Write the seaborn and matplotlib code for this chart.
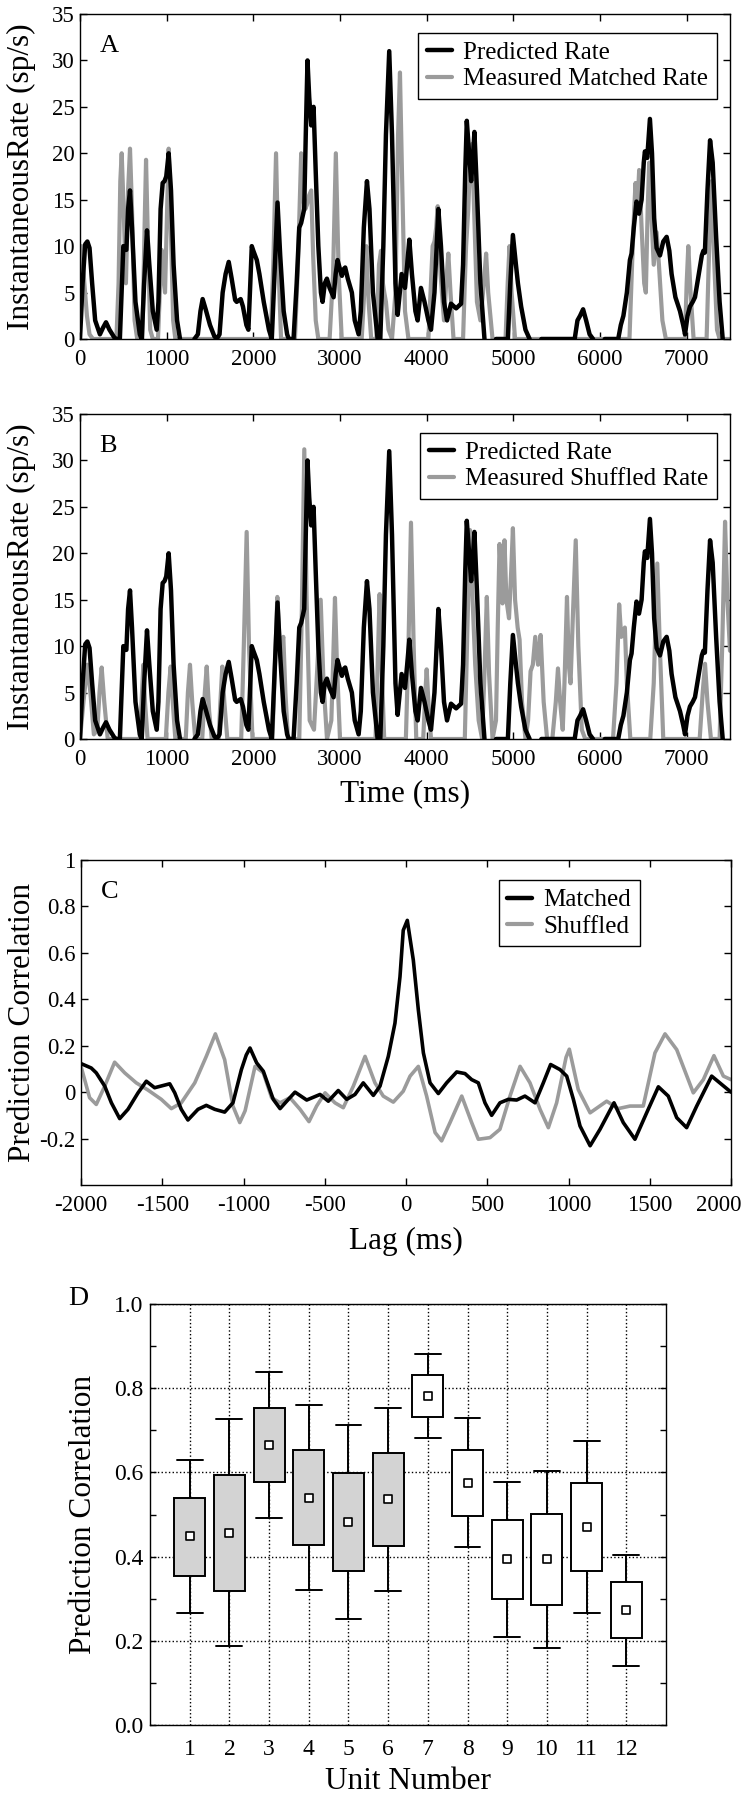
import numpy as np
import pandas as pd
import matplotlib
matplotlib.use("Agg")
import matplotlib.pyplot as plt
import matplotlib.transforms as mtransforms
import seaborn as sns
from matplotlib.lines import Line2D
from matplotlib.ticker import MultipleLocator, FuncFormatter

nan = np.nan

# === Panel A/B: predicted rate (ms, sp/s); NaN marks a break in the trace ===
pred_points = [
    (0, 0), (30, 6), (60, 10.2), (85, 10.5), (110, 9.8), (140, 6), (175, 2), (230, 0.5),
    (265, 1.2), (300, 1.8), (340, 1), (400, 0.1), (423, 0), (460, 0), (480, 5), (500, 10),
    (520, 9.6), (535, 9.6), (555, 14), (577, 16), (600, 12), (640, 4), (690, 0.5), (712, 0),
    (740, 6), (773, 11.7), (800, 8), (840, 3), (885, 1), (905, 4), (930, 14), (954, 16.8),
    (975, 17), (995, 17.5), (1023, 20), (1050, 16), (1080, 8), (1120, 2), (1154, 0),
    (1240, nan),
    (1320, 0), (1360, 0.5), (1390, 3), (1415, 4.3), (1450, 3.2), (1500, 1.5), (1550, 0.3),
    (1577, 0), (1610, 0.5), (1646, 5), (1680, 7), (1716, 8.3), (1750, 6.5), (1790, 4.2),
    (1808, 4), (1854, 4.3), (1880, 3.5), (1920, 1.5), (1943, 1), (1965, 6), (1982, 10),
    (2000, 9.5), (2040, 8.5), (2070, 7), (2120, 4), (2180, 1), (2213, 0), (2240, 6),
    (2279, 14.7), (2310, 9), (2350, 3), (2390, 0.5), (2410, 0), (2464, 0), (2500, 6),
    (2530, 12), (2552, 12.5), (2587, 14), (2605, 22), (2625, 30), (2645, 26), (2668, 23),
    (2695, 25), (2720, 18), (2750, 10), (2780, 5), (2799, 4), (2825, 6), (2849, 6.5),
    (2880, 5.5), (2926, 4.5), (2950, 7), (2972, 8.5), (3000, 7.5), (3022, 6.8), (3040, 7.5),
    (3060, 7.7), (3090, 6.5), (3137, 5), (3170, 2), (3215, 0.5), (3240, 3), (3275, 12),
    (3311, 17), (3340, 14), (3380, 5), (3434, 0), (3465, 0), (3500, 10), (3530, 22),
    (3568, 31), (3600, 22), (3640, 6), (3665, 2.6), (3690, 5), (3711, 7), (3750, 5.5),
    (3775, 8), (3800, 10.7), (3830, 7), (3870, 3), (3896, 2), (3934, 5.5), (3975, 4),
    (4020, 2), (4050, 1), (4090, 5), (4135, 14), (4165, 10), (4200, 4), (4235, 2),
    (4281, 3.8), (4340, 3.3), (4397, 3.8), (4420, 8), (4445, 18), (4463, 23.5), (4490, 20),
    (4513, 17), (4530, 19), (4551, 22.3), (4580, 16), (4620, 6), (4667, 0),
    (4740, nan),
    (4800, 0), (4937, 0), (4965, 6), (4995, 11.2), (5030, 8), (5053, 6), (5090, 3.5),
    (5140, 1), (5188, 0),
    (5250, nan),
    (5323, 0), (5708, 0), (5740, 2), (5770, 2.5), (5805, 3.2), (5840, 2), (5880, 0.5), (5920, 0),
    (5990, nan),
    (6055, 0), (6210, 0), (6240, 1.5), (6270, 2.5), (6310, 5), (6345, 8.5), (6364, 9.2),
    (6390, 12), (6421, 14.8), (6450, 13.5), (6480, 15), (6505, 19), (6518, 20.2), (6545, 19.5),
    (6576, 23.7), (6600, 20), (6625, 13), (6653, 9.8), (6692, 9), (6730, 10.5), (6769, 11),
    (6800, 9.5), (6826, 7), (6870, 4.5), (6923, 3), (6960, 1.5), (6981, 0.5), (7010, 2.5),
    (7038, 3.5), (7070, 4), (7096, 4.5), (7140, 7), (7175, 9), (7193, 9.5), (7210, 9.3),
    (7240, 16), (7270, 21.4), (7300, 19), (7340, 11), (7380, 4), (7416, 0),
]

# === Panel A: measured matched rate ===
matched_points = [
    (0, 9), (20, 10), (50, 6), (80, 2.5), (110, 0.5), (150, 0), (420, 0), (445, 6), (465, 17),
    (481, 20), (500, 15), (530, 6), (555, 16), (577, 20.5), (600, 14), (630, 2), (660, 0),
    (720, 0), (745, 12), (762, 19.3), (780, 12), (810, 1), (840, 0), (900, 0), (925, 6),
    (942, 9.6), (960, 7), (981, 5), (1000, 12), (1023, 20.5), (1045, 13), (1075, 2), (1100, 0),
    (2200, 0), (2230, 8), (2262, 20), (2290, 8), (2320, 0), (2480, 0), (2515, 8), (2552, 20),
    (2575, 15), (2600, 14), (2620, 14.5), (2645, 15.5), (2668, 16), (2690, 9), (2720, 2),
    (2750, 0), (2880, 0), (2920, 7), (2952, 20), (2985, 7), (3020, 0), (3250, 0), (3280, 5),
    (3304, 10), (3330, 4), (3360, 0), (3420, 0), (3450, 8), (3473, 9.5), (3495, 6), (3511, 5),
    (3530, 4), (3560, 1), (3600, 0), (3640, 5), (3670, 22), (3692, 28.7), (3715, 18),
    (3750, 3), (3790, 0), (4020, 0), (4050, 6), (4069, 10), (4090, 10.5), (4110, 12),
    (4127, 14.3), (4160, 7), (4200, 2), (4225, 6), (4250, 9.2), (4275, 5), (4310, 0),
    (4420, 0), (4440, 6), (4455, 10), (4480, 14), (4505, 20), (4524, 21), (4550, 13),
    (4580, 4), (4620, 2), (4660, 6), (4686, 9.2), (4710, 5), (4760, 0), (4910, 0), (4935, 6),
    (4956, 10), (4980, 5), (5020, 0), (6340, 0), (6370, 8), (6395, 14), (6410, 16.8),
    (6430, 14), (6452, 18.2), (6480, 12), (6510, 6), (6529, 5), (6550, 14), (6568, 19),
    (6590, 14), (6620, 8), (6653, 11.5), (6680, 8), (6720, 2), (6760, 0), (6980, 0),
    (7000, 6), (7019, 10), (7045, 5), (7080, 0), (7230, 0), (7260, 10), (7289, 17),
    (7315, 9), (7350, 1), (7380, 0), (7500, 0),
]

# === Panel B: measured shuffled rate ===
shuffled_points = [
    (0, 0), (40, 4), (85, 8), (120, 5), (160, 0.5), (200, 1), (225, 5), (250, 7.7), (280, 4),
    (320, 0), (690, 0), (715, 5), (731, 8), (750, 4), (780, 0), (990, 0), (1020, 5),
    (1046, 7.8), (1070, 4), (1100, 0), (1220, 0), (1245, 5), (1269, 8), (1295, 4), (1330, 0),
    (1410, 0), (1440, 5), (1462, 7.8), (1490, 3), (1520, 0), (1600, 0), (1620, 4), (1642, 7.8),
    (1665, 4), (1700, 0), (1860, 0), (1890, 10), (1923, 22.3), (1950, 10), (1990, 0),
    (2220, 0), (2250, 8), (2277, 15.3), (2300, 11), (2320, 10), (2346, 11), (2370, 5),
    (2400, 0), (2530, 0), (2560, 14), (2588, 31.2), (2615, 15), (2650, 2), (2700, 1),
    (2740, 8), (2777, 15), (2810, 6), (2850, 0), (2900, 2), (2920, 8), (2942, 15.2),
    (2965, 8), (3000, 0), (3410, 0), (3435, 8), (3457, 15.6), (3480, 8), (3510, 0),
    (3760, 0), (3790, 10), (3819, 23.3), (3850, 10), (3880, 0), (3960, 0), (3985, 5),
    (4000, 7.5), (4020, 4), (4050, 0), (4440, 0), (4470, 12), (4500, 22.5), (4530, 15),
    (4560, 8), (4600, 2), (4640, 0), (4670, 8), (4694, 15.3), (4720, 7), (4760, 0),
    (4800, 2), (4820, 12), (4841, 21), (4860, 17), (4875, 14.6), (4898, 21.4), (4920, 15),
    (4950, 13), (4975, 18), (4995, 22.7), (5020, 15), (5050, 12), (5072, 10.7), (5100, 4),
    (5140, 0), (5170, 2), (5199, 7.3), (5225, 8), (5253, 11), (5285, 8), (5315, 11.2),
    (5350, 4), (5390, 0), (5450, 0), (5490, 4), (5515, 7.6), (5540, 4), (5570, 1),
    (5590, 6), (5619, 15.3), (5640, 8), (5660, 6), (5690, 14), (5720, 21.4), (5750, 10),
    (5790, 1), (5830, 0), (6150, 0), (6190, 6), (6221, 14.5), (6245, 11), (6265, 11.5),
    (6287, 12), (6310, 6), (6350, 0), (6580, 0), (6620, 6), (6661, 18.9), (6690, 10),
    (6730, 0), (7150, 0), (7185, 5), (7212, 8.1), (7240, 4), (7280, 0), (7380, 0),
    (7410, 10), (7443, 23.4), (7470, 15), (7500, 9.5),
]

# === Panel C: prediction correlation vs lag (ms) ===
matched_corr = [
    (-2000, 0.123), (-1937, 0.104), (-1906, 0.083), (-1854, 0.026), (-1813, -0.046),
    (-1762, -0.114), (-1711, -0.074), (-1649, -0.003), (-1598, 0.047), (-1547, 0.019),
    (-1454, 0.036), (-1423, -0.003), (-1383, -0.074), (-1342, -0.12), (-1280, -0.074),
    (-1229, -0.057), (-1177, -0.074), (-1116, -0.086), (-1065, -0.046), (-1013, 0.097),
    (-983, 0.16), (-960, 0.19), (-919, 0.126), (-878, 0.09), (-817, -0.031), (-775, -0.071),
    (-734, -0.039), (-683, 0.0), (-611, -0.034), (-529, -0.01), (-478, -0.039), (-417, 0.007),
    (-365, -0.031), (-314, -0.01), (-263, 0.04), (-201, -0.014), (-160, 0.026),
    (-109, 0.154), (-68, 0.297), (-37, 0.497), (-17, 0.697), (8, 0.74), (45, 0.569),
    (76, 0.354), (107, 0.169), (148, 0.04), (199, -0.006), (250, 0.04), (312, 0.087),
    (363, 0.08), (404, 0.054), (445, 0.04), (486, -0.046), (527, -0.1), (578, -0.046),
    (630, -0.031), (681, -0.034), (732, -0.017), (794, -0.046), (845, 0.04), (890, 0.119),
    (948, 0.097), (989, 0.069), (1030, -0.031), (1071, -0.146), (1133, -0.231),
    (1194, -0.16), (1280, -0.046), (1337, -0.131), (1409, -0.203), (1481, -0.089),
    (1553, 0.023), (1614, -0.017), (1666, -0.11), (1727, -0.153), (1789, -0.06),
    (1881, 0.069), (1943, 0.033), (2000, 0.0),
]
shuffled_corr = [
    (-2000, 0.111), (-1947, -0.024), (-1906, -0.053), (-1854, 0.026), (-1793, 0.129),
    (-1731, 0.083), (-1660, 0.04), (-1588, 0.009), (-1506, -0.031), (-1444, -0.071),
    (-1383, -0.046), (-1300, 0.04), (-1229, 0.154), (-1173, 0.251), (-1116, 0.14),
    (-1065, -0.06), (-1023, -0.131), (-990, -0.08), (-929, 0.111), (-878, 0.083),
    (-827, -0.024), (-775, -0.046), (-714, -0.024), (-652, -0.074), (-597, -0.127),
    (-550, -0.06), (-498, -0.003), (-437, -0.046), (-386, -0.067), (-324, 0.026),
    (-252, 0.154), (-191, 0.04), (-140, -0.017), (-78, -0.043), (-17, 0.004), (25, 0.069),
    (76, 0.111), (127, -0.017), (179, -0.174), (219, -0.21), (271, -0.131), (343, -0.017),
    (404, -0.131), (445, -0.203), (517, -0.196), (578, -0.16), (640, -0.017), (702, 0.111),
    (763, 0.04), (825, -0.074), (876, -0.153), (927, -0.046), (985, 0.15), (1005, 0.185),
    (1060, 0.011), (1133, -0.089), (1235, -0.039), (1306, -0.071), (1378, -0.06),
    (1460, -0.06), (1532, 0.169), (1594, 0.251), (1666, 0.183), (1768, -0.003),
    (1830, 0.054), (1895, 0.157), (1953, 0.069), (2000, 0.054),
]

# === Panel D: prediction correlation per unit ===
units = [1, 2, 3, 4, 5, 6, 7, 8, 9, 10, 11, 12]
whisker_low = [0.265, 0.188, 0.492, 0.321, 0.252, 0.319, 0.681, 0.422, 0.210, 0.182, 0.266, 0.141]
box_low = [0.355, 0.319, 0.578, 0.428, 0.365, 0.426, 0.731, 0.496, 0.300, 0.286, 0.365, 0.206]
centre = [0.448, 0.457, 0.666, 0.540, 0.483, 0.536, 0.781, 0.575, 0.394, 0.394, 0.471, 0.273]
box_high = [0.540, 0.595, 0.754, 0.653, 0.599, 0.647, 0.832, 0.654, 0.487, 0.501, 0.574, 0.339]
whisker_high = [0.630, 0.727, 0.838, 0.760, 0.712, 0.754, 0.882, 0.729, 0.578, 0.604, 0.674, 0.403]
fill_group = ["shaded"] * 6 + ["open"] * 6

GRAY = "#9b9b9b"
TICK_FS = 16.5
LABEL_FS = 22.5
LEG_FS = 18

sns.set_theme(style="ticks", rc={
    "axes.edgecolor": "black", "axes.linewidth": 1.0,
    "xtick.color": "black", "ytick.color": "black",
    "text.color": "black", "axes.labelcolor": "black",
})
plt.rcParams["font.family"] = ["Liberation Serif", "DejaVu Serif"]
plt.rcParams["axes.unicode_minus"] = False


def draw_trace(ax, points, color, lw, z):
    frame = pd.DataFrame(points, columns=["t", "v"])
    frame["seg"] = frame["v"].isna().cumsum()
    frame = frame.dropna()
    sns.lineplot(data=frame, x="t", y="v", units="seg", estimator=None,
                 color=color, linewidth=lw, zorder=z, ax=ax, legend=False)


def style_axes(ax):
    ax.tick_params(which="both", direction="in", top=True, right=True,
                   length=5, width=1, labelsize=TICK_FS)
    ax.tick_params(axis="x", pad=7)
    ax.tick_params(axis="y", pad=4)
    for s in ax.spines.values():
        s.set_visible(True)
        s.set_linewidth(1.0)
        s.set_color("black")
    ax.set_xlabel("")
    ax.set_ylabel("")


def add_legend(ax, labels, anchor):
    handles = [Line2D([], [], color="black", lw=3.2), Line2D([], [], color=GRAY, lw=3.0)]
    leg = ax.legend(handles, labels, loc="upper right", bbox_to_anchor=anchor,
                    borderaxespad=0, fontsize=LEG_FS, frameon=True, fancybox=False,
                    edgecolor="black", framealpha=1, handlelength=1.0,
                    handletextpad=0.45, borderpad=0.35, labelspacing=0.15)
    leg.get_frame().set_linewidth(1.0)


fig = plt.figure(figsize=(7.48, 18), dpi=100)
axA = fig.add_axes([80 / 748, 1 - 339 / 1800, 650 / 748, 325 / 1800])
axB = fig.add_axes([80 / 748, 1 - 739 / 1800, 650 / 748, 325 / 1800])
axC = fig.add_axes([81 / 748, 1 - 1185 / 1800, 650 / 748, 325 / 1800])
axD = fig.add_axes([150 / 748, 1 - 1725 / 1800, 516 / 748, 421 / 1800])

# --- A and B ---
for ax, meas, meas_label, letter in [
    (axA, matched_points, "Measured Matched Rate", "A"),
    (axB, shuffled_points, "Measured Shuffled Rate", "B"),
]:
    draw_trace(ax, meas, GRAY, 3.0, 2)
    draw_trace(ax, pred_points, "black", 3.2, 3)
    ax.set_xlim(0, 7500)
    ax.set_ylim(0, 35)
    ax.xaxis.set_major_locator(MultipleLocator(1000))
    ax.yaxis.set_major_locator(MultipleLocator(5))
    style_axes(ax)
    ax.set_ylabel("InstantaneousRate (sp/s)", fontsize=LABEL_FS)
    ax.yaxis.set_label_coords(-0.068, 0.5)
    ax.text(0.03, 0.882, letter, transform=ax.transAxes, fontsize=19, va="baseline")
    add_legend(ax, ["Predicted Rate", meas_label], (0.98, 0.942))

axB.set_xlabel("Time (ms)", fontsize=LABEL_FS)
axB.xaxis.set_label_coords(0.5, -0.125)

# --- C ---
draw_trace(axC, shuffled_corr, GRAY, 2.6, 2)
draw_trace(axC, matched_corr, "black", 2.6, 3)
axC.set_xlim(-2000, 2000)
axC.set_ylim(-0.4, 1.0)
axC.set_xticks(np.arange(-2000, 2001, 500))
axC.set_yticks([-0.2, 0, 0.2, 0.4, 0.6, 0.8, 1.0])
axC.yaxis.set_major_formatter(FuncFormatter(lambda v, p: f"{v:g}"))
style_axes(axC)
axC.set_ylabel("Prediction Correlation", fontsize=LABEL_FS)
axC.yaxis.set_label_coords(-0.068, 0.5)
axC.set_xlabel("Lag (ms)", fontsize=LABEL_FS)
axC.xaxis.set_label_coords(0.5, -0.13)
axC.text(0.03, 0.883, "C", transform=axC.transAxes, fontsize=19, va="baseline")
add_legend(axC, ["Matched", "Shuffled"], (0.86, 0.938))
# the last tick label sits a little left of its tick, as in the original
fig.canvas.draw()
last = axC.get_xticklabels()[-1]
last.set_transform(last.get_transform()
                   + mtransforms.ScaledTranslation(-0.12, 0, fig.dpi_scale_trans))

# --- D ---
rows = []
for i, u in enumerate(units):
    for v in (whisker_low[i], box_low[i], centre[i], box_high[i], whisker_high[i]):
        rows.append({"unit": u, "value": v, "fill": fill_group[i]})
box_df = pd.DataFrame(rows)

sns.boxplot(data=box_df, x="unit", y="value", hue="fill",
            palette={"shaded": "#d3d3d3", "open": "white"},
            native_scale=True, dodge=False, whis=(0, 100), width=0.78,
            saturation=1, linecolor="black", linewidth=1.4, legend=False,
            medianprops={"visible": False}, capwidths=0.65, ax=axD)
sns.scatterplot(x=units, y=centre, marker="s", s=40, color="white",
                edgecolor="black", linewidth=1.2, zorder=5, legend=False, ax=axD)

axD.set_xlim(0, 13)
axD.set_ylim(0, 1)
axD.set_xticks(units)
axD.set_xticklabels([str(u) for u in units])
axD.yaxis.set_major_locator(MultipleLocator(0.2))
axD.yaxis.set_minor_locator(MultipleLocator(0.1))
axD.yaxis.set_major_formatter(FuncFormatter(lambda v, p: f"{v:.1f}"))
axD.set_axisbelow(True)
axD.grid(True, which="major", linestyle=":", color="black", linewidth=1.0)
axD.tick_params(which="both", direction="in", left=True, right=True, length=4,
                width=1, labelsize=17)
axD.tick_params(axis="x", length=0, pad=10)
axD.tick_params(axis="y", pad=5)
for s in axD.spines.values():
    s.set_visible(True)
    s.set_linewidth(1.0)
    s.set_color("black")
axD.set_ylabel("Prediction Correlation", fontsize=LABEL_FS)
axD.yaxis.set_label_coords(-0.1, 0.5)
axD.set_xlabel("Unit Number", fontsize=LABEL_FS)
axD.xaxis.set_label_coords(0.5, -0.1)
fig.text(68 / 748, 1 - 1305 / 1800, "D", fontsize=20, va="baseline")

fig.savefig("out.png", dpi=100)
